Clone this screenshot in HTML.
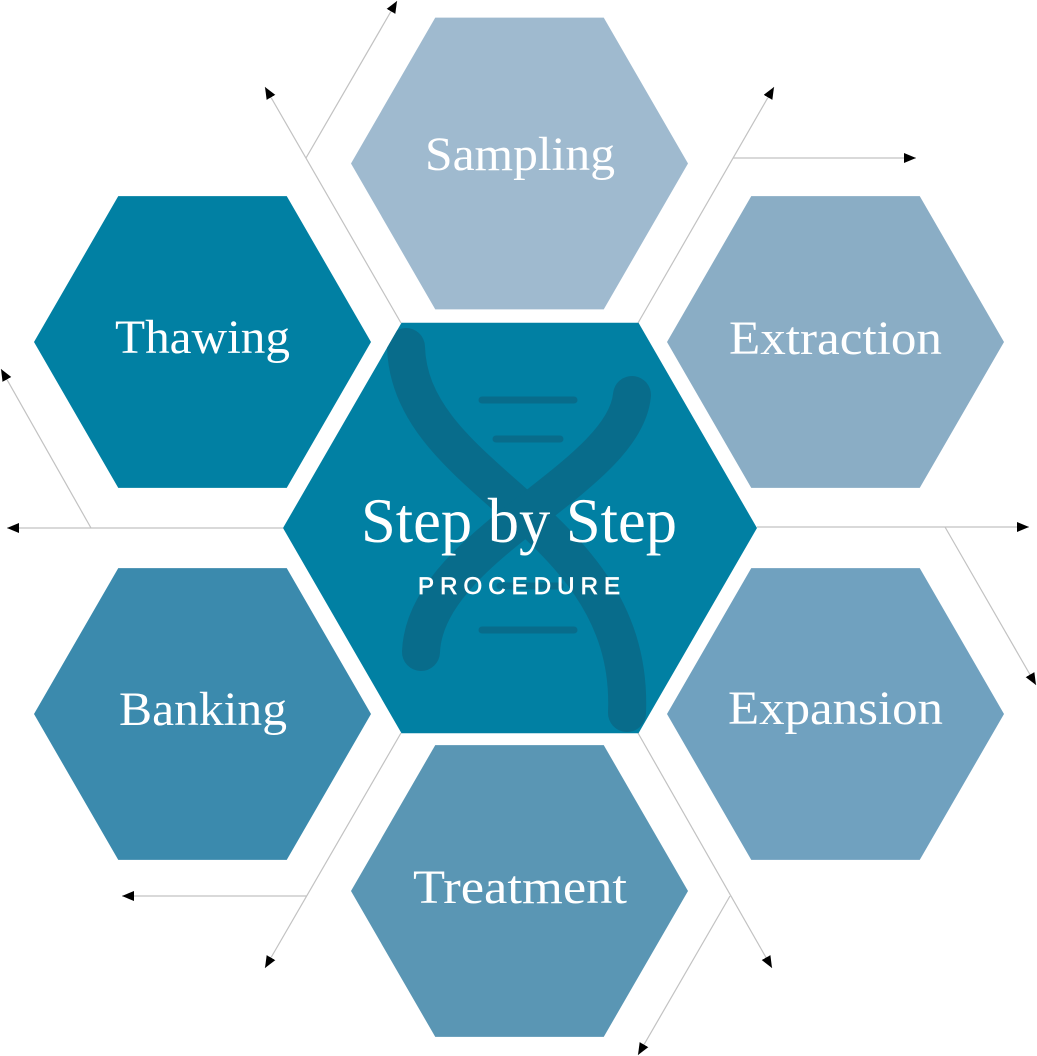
<!DOCTYPE html>
<html>
<head>
<meta charset="utf-8">
<style>
  html, body { margin: 0; padding: 0; background: #ffffff; }
  body { width: 1037px; height: 1056px; overflow: hidden; }
  svg { display: block; }
  .lbl { font-family: "Liberation Serif", "DejaVu Serif", serif; font-size: 48px; fill: #ffffff; }
</style>
</head>
<body>
<svg width="1037" height="1056" viewBox="0 0 1037 1056" xmlns="http://www.w3.org/2000/svg">
  <defs>
    <marker id="ah" markerUnits="userSpaceOnUse" markerWidth="13" markerHeight="11" refX="12" refY="5" orient="auto">
      <path d="M0,0 L12,5 L0,10 z" fill="#000000"/>
    </marker>
    <clipPath id="chex">
      <polygon points="283,528 401.5,322.8 638.5,322.8 757,528 638.5,733.2 401.5,733.2"/>
    </clipPath>
  </defs>

  <!-- connector lines -->
  <g stroke="#c2c2c2" stroke-width="1.2" fill="none">
    <line x1="401" y1="323" x2="265" y2="87" marker-end="url(#ah)"/>
    <line x1="306" y1="158" x2="397" y2="1" marker-end="url(#ah)"/>
    <line x1="638" y1="323" x2="774" y2="87" marker-end="url(#ah)"/>
    <line x1="733" y1="158" x2="916" y2="158" marker-end="url(#ah)"/>
    <line x1="283" y1="528" x2="7" y2="528" marker-end="url(#ah)"/>
    <line x1="91" y1="528" x2="1" y2="369" marker-end="url(#ah)"/>
    <line x1="757" y1="527" x2="1029" y2="527" marker-end="url(#ah)"/>
    <line x1="945" y1="527" x2="1036" y2="685" marker-end="url(#ah)"/>
    <line x1="401" y1="733" x2="265" y2="968" marker-end="url(#ah)"/>
    <line x1="307" y1="896" x2="122" y2="896" marker-end="url(#ah)"/>
    <line x1="638" y1="733" x2="772" y2="968" marker-end="url(#ah)"/>
    <line x1="730" y1="896" x2="638" y2="1055" marker-end="url(#ah)"/>
  </g>

  <!-- outer hexagons -->
  <polygon fill="#9fbacf" points="351,163.5 435.25,17.6 603.75,17.6 688,163.5 603.75,309.4 435.25,309.4"/>
  <polygon fill="#0180a3" points="34,342 118.25,196.1 286.75,196.1 371,342 286.75,487.9 118.25,487.9"/>
  <polygon fill="#8aadc5" points="667,342 751.25,196.1 919.75,196.1 1004,342 919.75,487.9 751.25,487.9"/>
  <polygon fill="#3b8aad" points="34,714 118.25,568.1 286.75,568.1 371,714 286.75,859.9 118.25,859.9"/>
  <polygon fill="#70a1bf" points="667,714 751.25,568.1 919.75,568.1 1004,714 919.75,859.9 751.25,859.9"/>
  <polygon fill="#5a96b4" points="351,891 435.25,745.1 603.75,745.1 688,891 603.75,1036.9 435.25,1036.9"/>

  <!-- center hexagon -->
  <polygon fill="#0180a3" points="283,528 401.5,322.8 638.5,322.8 757,528 638.5,733.2 401.5,733.2"/>

  <!-- DNA icon -->
  <g clip-path="url(#chex)" stroke="#086c8b" fill="none" stroke-linecap="round">
    <path d="M406,347 C410,485 635,520 627,713" stroke-width="38"/>
    <path d="M632,395 C624,480 425,545 421,652" stroke-width="38"/>
    <line x1="482" y1="400" x2="574" y2="400" stroke-width="7"/>
    <line x1="496" y1="439" x2="560" y2="439" stroke-width="7"/>
    <line x1="500" y1="586" x2="560" y2="586" stroke-width="7"/>
    <line x1="482" y1="630" x2="574" y2="630" stroke-width="7"/>
  </g>

  <!-- labels -->
  <text class="lbl" x="425" y="170" textLength="190" lengthAdjust="spacingAndGlyphs">Sampling</text>
  <text class="lbl" x="115" y="353" textLength="175" lengthAdjust="spacingAndGlyphs">Thawing</text>
  <text class="lbl" x="729" y="354" textLength="213" lengthAdjust="spacingAndGlyphs">Extraction</text>
  <text class="lbl" x="119" y="725" textLength="168" lengthAdjust="spacingAndGlyphs">Banking</text>
  <text class="lbl" x="728" y="724" textLength="215" lengthAdjust="spacingAndGlyphs">Expansion</text>
  <text class="lbl" x="413" y="903" textLength="214" lengthAdjust="spacingAndGlyphs">Treatment</text>

  <text x="361" y="542" textLength="316" lengthAdjust="spacingAndGlyphs"
        style="font-family:'Liberation Serif','DejaVu Serif',serif;font-size:63px;fill:#ffffff;">Step by Step</text>
  <text x="418" y="594" textLength="202" lengthAdjust="spacing"
        style="font-family:'Liberation Sans','DejaVu Sans',sans-serif;font-size:24px;fill:#ffffff;stroke:#ffffff;stroke-width:0.7;">PROCEDURE</text>
</svg>
</body>
</html>
